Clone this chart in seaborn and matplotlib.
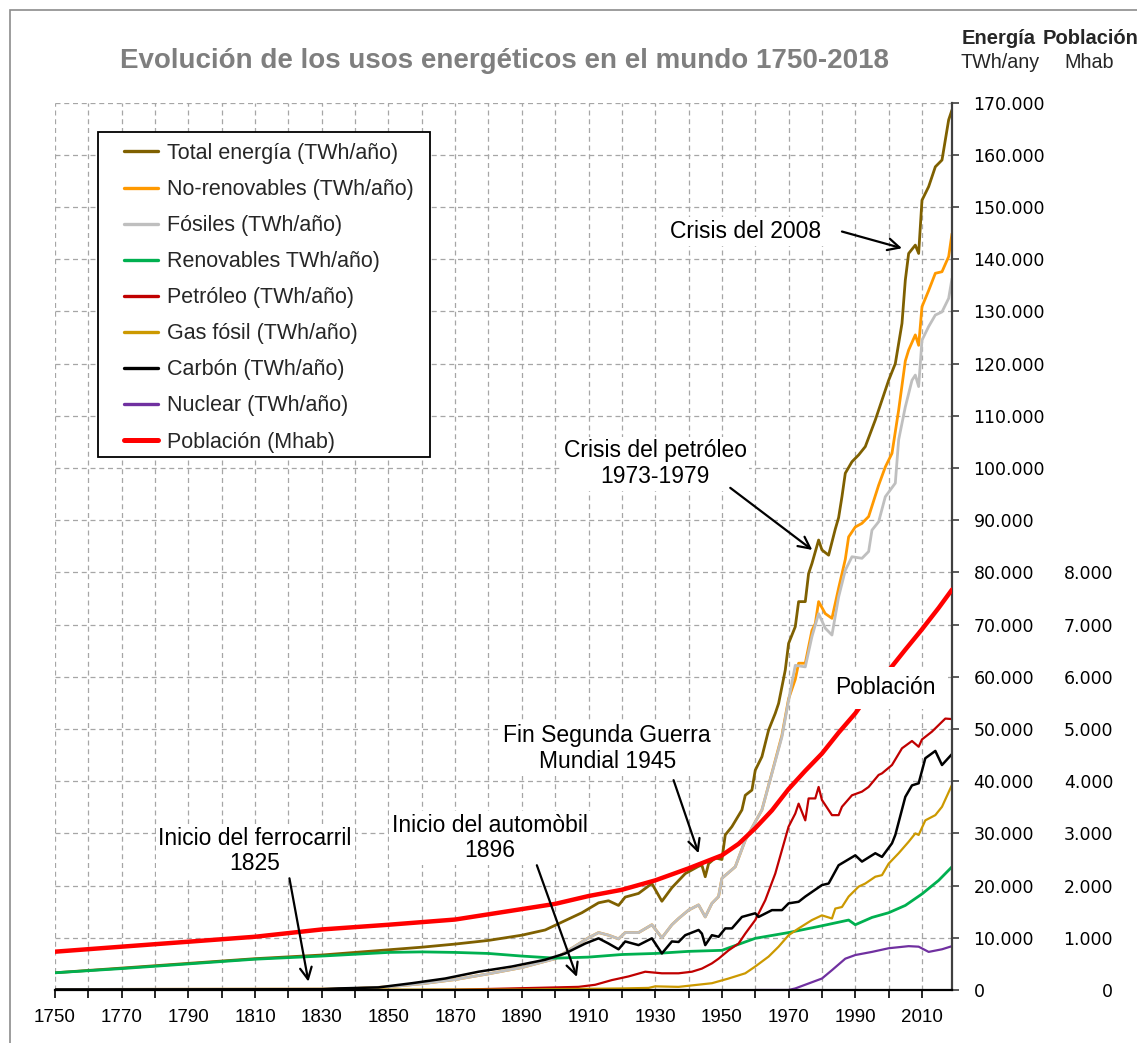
import matplotlib
matplotlib.use("Agg")
import matplotlib.pyplot as plt
import seaborn as sns
import pandas as pd
from matplotlib.lines import Line2D
from matplotlib.patches import Rectangle

# ---------------- data (TWh/año; población en Mhab) ----------------
total_years = [1750, 1770, 1790, 1810, 1830, 1850, 1860, 1870, 1880, 1890, 1897, 1903, 1908, 1913, 1916,
               1919, 1921, 1925, 1929, 1932, 1935, 1939, 1943, 1944, 1945, 1946, 1948, 1950, 1951, 1953,
               1956, 1957, 1959, 1960, 1962, 1964, 1966, 1967, 1969, 1970, 1972, 1973, 1975, 1976, 1977,
               1979, 1980, 1982, 1984, 1985, 1986, 1987, 1989, 1991, 1993, 1996, 1997, 2000, 2002, 2004,
               2005, 2006, 2008, 2009, 2010, 2012, 2014, 2016, 2018, 2019]
total_vals = [3300, 4200, 5100, 6000, 6700, 7700, 8200, 8800, 9500, 10500, 11500, 13300, 14800, 16700, 17100,
              16200, 17800, 18500, 20400, 17000, 19600, 22300, 23700, 23900, 21700, 24200, 25300, 25000, 29700, 31300,
              34500, 37300, 38300, 42100, 44700, 49800, 53000, 54900, 61300, 66400, 69600, 74400, 74400, 79800, 81700,
              86200, 84300, 83300, 88300, 90500, 94500, 99000, 101200, 102500, 104100, 109200, 111100, 116800, 120000, 127700,
              136000, 141100, 142700, 141100, 151300, 153900, 157700, 159000, 166700, 168600]

norenov_years = [1750, 1830, 1840, 1850, 1860, 1870, 1880, 1890, 1900, 1905, 1910, 1913, 1916, 1919, 1921, 1925,
                 1929, 1932, 1935, 1937, 1940, 1943, 1945, 1947, 1949, 1950, 1954, 1957, 1960, 1962, 1965, 1968,
                 1970, 1972, 1973, 1975, 1977, 1978, 1979, 1981, 1983, 1985, 1987, 1988, 1990, 1992, 1994, 1997,
                 1999, 2001, 2003, 2005, 2006, 2008, 2009, 2010, 2012, 2014, 2016, 2018, 2019]
norenov_vals = [100, 200, 300, 600, 1200, 2000, 3100, 4300, 6000, 8000, 10000, 11000, 10500, 9800, 11000, 11000,
                12500, 10000, 12500, 13700, 15300, 16300, 14000, 16600, 17900, 21400, 23600, 28700, 32200, 34500, 41600, 48800,
                55800, 59500, 62600, 62600, 68900, 70200, 74400, 72100, 71200, 77000, 82500, 86800, 88700, 89400, 90700, 96700,
                100200, 102800, 111100, 120500, 122600, 125500, 123500, 130900, 134000, 137300, 137600, 140500, 144900]

fosil_years = [1750, 1830, 1840, 1850, 1860, 1870, 1880, 1890, 1900, 1905, 1910, 1913, 1916, 1919, 1921, 1925,
               1929, 1932, 1935, 1937, 1940, 1943, 1945, 1947, 1949, 1950, 1954, 1957, 1960, 1962, 1965, 1968,
               1970, 1972, 1975, 1977, 1979, 1981, 1983, 1985, 1987, 1989, 1992, 1994, 1995, 1997, 1999, 2002,
               2003, 2005, 2007, 2008, 2009, 2010, 2012, 2014, 2016, 2018, 2019]
fosil_vals = [100, 200, 300, 600, 1200, 2000, 3100, 4300, 6000, 8000, 10000, 11000, 10500, 9800, 11000, 11000,
              12500, 10000, 12500, 13700, 15300, 16300, 14000, 16600, 17900, 21400, 23600, 28700, 32200, 34500, 41500, 48500,
              55500, 62200, 61900, 67700, 72100, 69300, 68000, 75300, 80400, 83000, 82700, 84000, 88100, 89700, 94500, 97100,
              105400, 111700, 116800, 117800, 115600, 124500, 127100, 129300, 129900, 132500, 136300]

renov_years = [1750, 1770, 1790, 1810, 1830, 1850, 1860, 1870, 1880, 1890, 1900, 1910, 1920, 1930, 1940, 1950,
               1960, 1970, 1980, 1988, 1990, 1995, 2000, 2005, 2010, 2015, 2019]
renov_vals = [3300, 4100, 5000, 5900, 6500, 7200, 7300, 7200, 7000, 6500, 6100, 6300, 6800, 7000, 7400, 7600,
              9900, 11000, 12300, 13400, 12500, 13900, 14800, 16200, 18400, 21000, 23600]

petro_years = [1860, 1870, 1887, 1907, 1912, 1917, 1922, 1927, 1932, 1937, 1941, 1944, 1947, 1949, 1952, 1955,
               1957, 1960, 1963, 1966, 1968, 1970, 1972, 1973, 1975, 1976, 1978, 1979, 1980, 1983, 1985, 1986,
               1989, 1992, 1994, 1997, 1998, 2001, 2004, 2007, 2009, 2010, 2013, 2017, 2019]
petro_vals = [0, 50, 300, 600, 1000, 1900, 2600, 3500, 3200, 3200, 3500, 4100, 5100, 6000, 7600, 8900,
              10800, 13400, 17200, 22300, 26800, 31300, 33800, 35700, 32500, 36700, 36700, 38900, 36400, 33500, 33500, 35100,
              37300, 38000, 38900, 41200, 41500, 43100, 46300, 47700, 46600, 48000, 49500, 52000, 51900]

gas_years = [1750, 1890, 1920, 1928, 1930, 1937, 1947, 1952, 1957, 1960, 1964, 1967, 1970, 1973, 1977, 1980,
             1983, 1984, 1986, 1988, 1991, 1993, 1996, 1998, 2000, 2003, 2006, 2008, 2009, 2011, 2014, 2016, 2019]
gas_vals = [0, 100, 300, 400, 700, 600, 1300, 2200, 3200, 4500, 6400, 8300, 10500, 11800, 13400, 14300,
            13700, 15600, 15900, 17900, 19800, 20400, 21700, 22000, 24200, 26200, 28400, 30000, 29700, 32500, 33500, 35100, 39300]

carbon_years = [1750, 1830, 1835, 1847, 1857, 1867, 1877, 1887, 1897, 1903, 1909, 1913, 1916, 1919, 1921, 1925,
                1929, 1932, 1935, 1937, 1939, 1943, 1944, 1945, 1947, 1949, 1951, 1953, 1956, 1960, 1961, 1965,
                1968, 1970, 1973, 1975, 1980, 1982, 1985, 1990, 1992, 1996, 1998, 2001, 2002, 2005, 2007, 2009,
                2011, 2014, 2016, 2019]
carbon_vals = [100, 150, 300, 500, 1300, 2200, 3500, 4500, 5800, 7000, 8900, 9900, 8900, 7800, 9300, 8600,
               9900, 7000, 9300, 9200, 10500, 11500, 10800, 8600, 10500, 10200, 11800, 11800, 14000, 14700, 14000, 15300,
               15300, 16600, 16900, 17900, 20100, 20400, 23900, 25800, 24600, 26200, 25500, 28100, 29700, 37000, 39200, 39600,
               44400, 45800, 43100, 45200]

nuclear_years = [1960, 1970, 1972, 1980, 1983, 1987, 1990, 1995, 2000, 2006, 2009, 2012, 2016, 2019]
nuclear_vals = [0, 0, 300, 2200, 3800, 6000, 6700, 7300, 8000, 8400, 8300, 7300, 7800, 8400]

pob_years = [1750, 1770, 1790, 1810, 1830, 1850, 1870, 1890, 1900, 1910, 1920, 1930, 1940, 1950, 1955,
             1960, 1965, 1970, 1975, 1980, 1985, 1990, 1995, 2000, 2005, 2010, 2015, 2019]
pob_vals = [734, 830, 925, 1020, 1160, 1250, 1350, 1550, 1650, 1800, 1920, 2100, 2330, 2580, 2800,
            3100, 3440, 3850, 4200, 4530, 4930, 5300, 5750, 6120, 6520, 6910, 7320, 7670]

series_names = ["Total energía (TWh/año)", "No-renovables (TWh/año)", "Fósiles (TWh/año)",
                "Renovables TWh/año)", "Petróleo (TWh/año)", "Gas fósil (TWh/año)",
                "Carbón (TWh/año)", "Nuclear (TWh/año)"]
pob_name = "Población (Mhab)"

energy_ticks = list(range(0, 170001, 10000))
pob_ticks = list(range(0, 8001, 1000))
year_ticks = list(range(1750, 2011, 10))

# ---------------- style ----------------
sns.set_theme(style="white")
plt.rcParams["font.family"] = ["Liberation Sans", "DejaVu Sans"]

colors = ["#7F6000", "#FF9900", "#BFBFBF", "#00B050", "#C00000", "#CC9900", "#000000", "#7030A0"]
widths = [2.0, 2.0, 2.0, 2.0, 1.6, 1.6, 1.8, 1.6]
pob_color = "#FF0000"

W, H = 1137, 1043
fig = plt.figure(figsize=(W / 100, H / 100), dpi=100)
x0, x1, y0, y1 = 55, 952, 102.6, 990
ax = fig.add_axes([x0 / W, 1 - y1 / H, (x1 - x0) / W, (y1 - y0) / H])
ax2 = ax.twinx()

energy = [(total_years, total_vals), (norenov_years, norenov_vals), (fosil_years, fosil_vals),
          (renov_years, renov_vals), (petro_years, petro_vals), (gas_years, gas_vals),
          (carbon_years, carbon_vals), (nuclear_years, nuclear_vals)]

handles = []
for (yrs, vals), name, c, lw in zip(energy, series_names, colors, widths):
    df = pd.DataFrame({"year": yrs, "value": vals})
    sns.lineplot(data=df, x="year", y="value", ax=ax, color=c, linewidth=lw,
                 estimator=None, legend=False)
    handles.append(Line2D([], [], color=c, linewidth=2.4, label=name))

dfp = pd.DataFrame({"year": pob_years, "value": pob_vals})
sns.lineplot(data=dfp, x="year", y="value", ax=ax2, color=pob_color, linewidth=3.2,
             estimator=None, legend=False)
handles.append(Line2D([], [], color=pob_color, linewidth=3.6, label=pob_name))

ax.set_xlim(1750, 2019)
ax.set_ylim(0, 170000)
ax2.set_ylim(0, 17000)
ax.set_xlabel("")
ax.set_ylabel("")
ax2.set_ylabel("")

# grid and ticks
ax.set_xticks(year_ticks)
ax.set_xticklabels([str(y) if (y - 1750) % 20 == 0 else "" for y in year_ticks])
ax.set_yticks(energy_ticks)
ax.set_yticklabels([f"{v:,}".replace(",", ".") for v in energy_ticks])
ax.grid(True, color="#a6a6a6", linestyle=(0, (4, 3)), linewidth=0.9)
ax.set_axisbelow(True)

ax.yaxis.tick_right()
ax.tick_params(axis="y", which="major", right=True, left=False, labelright=True, labelleft=False,
               length=5, width=1.2, color="#404040", pad=10.5, labelsize=12.5, labelcolor="black")
ax.tick_params(axis="x", which="major", bottom=True, length=5.5, width=1.2, color="black",
               pad=8, labelsize=13.5, labelcolor="black")
for t in ax.get_yticklabels():
    t.set_fontfamily(["DejaVu Sans"])

ax2.set_yticks(pob_ticks)
ax2.set_yticklabels([f"{v:,}".replace(",", ".") for v in pob_ticks])
ax2.tick_params(axis="y", length=0, pad=116, labelsize=12.5, labelcolor="black")
for t in ax2.get_yticklabels():
    t.set_ha("right")
    t.set_fontfamily(["DejaVu Sans"])

for s in ["left", "top"]:
    ax.spines[s].set_visible(False)
ax.spines["right"].set_color("#404040")
ax.spines["right"].set_linewidth(1.6)
ax.spines["bottom"].set_color("black")
ax.spines["bottom"].set_linewidth(1.6)
for s in ax2.spines.values():
    s.set_visible(False)

# legend: separate frame + frameless legend
ax2.add_patch(Rectangle(((98 - x0) / (x1 - x0), (y1 - 457) / (y1 - y0)),
                        (430 - 98) / (x1 - x0), (457 - 132) / (y1 - y0),
                        transform=ax2.transAxes, facecolor="white", edgecolor="black",
                        linewidth=1.3, zorder=5))
leg = ax2.legend(handles=handles, loc="upper left",
                 bbox_to_anchor=((124 - x0) / (x1 - x0), (y1 - 143) / (y1 - y0)),
                 borderaxespad=0, frameon=False, fontsize=15.5, handlelength=1.58,
                 handletextpad=0.42, labelspacing=0.7, borderpad=0)
leg.set_zorder(6)

# annotations (energy data coordinates)
tr = ax.transData
box = dict(facecolor="white", edgecolor="none", pad=2)
fs = 16.5
texts = [
    ("Crisis del 2008", 1957, 145300),
    ("Crisis del petróleo\n1973-1979", 1930, 100800),
    ("Fin Segunda Guerra\nMundial 1945", 1915.6, 46200),
    ("Inicio del automòbil\n1896", 1880.5, 29100),
    ("Inicio del ferrocarril\n1825", 1810, 26600),
]
for s, xx, yy in texts:
    ax2.text(xx, yy, s, transform=tr, ha="center", va="center", fontsize=fs,
             color="black", bbox=box, zorder=6, linespacing=1.15)
ax2.text(1999, 57900, "Población", transform=tr, ha="center", va="center", fontsize=fs,
         color="black", bbox=dict(facecolor="white", edgecolor="none", pad=7), zorder=6)

arrows = [
    ((1986.0, 145300), (2004.0, 142100)),
    ((1952.5, 96200), (1977.1, 84300)),
    ((1935.5, 40200), (1943.0, 26200)),
    ((1894.5, 23900), (1906.5, 2500)),
    ((1820.3, 21400), (1826.0, 1600)),
]
for start, end in arrows:
    ax2.annotate("", xy=end, xytext=start, xycoords=tr, textcoords=tr,
                 arrowprops=dict(arrowstyle="->,head_length=0.7,head_width=0.35",
                                 color="black", lw=1.6, shrinkA=0, shrinkB=0), zorder=7)

# titles and headers
fig.text(505 / W, 1 - 61 / H, "Evolución de los usos energéticos en el mundo 1750-2018",
         ha="center", va="center", fontsize=20, fontweight="bold", color="#7F7F7F")
fig.text(999 / W, 1 - 38 / H, "Energía", ha="center", va="center", fontsize=14.5, fontweight="bold")
fig.text(1091 / W, 1 - 38 / H, "Población", ha="center", va="center", fontsize=14.5, fontweight="bold")
fig.text(1000 / W, 1 - 63 / H, "TWh/any", ha="center", va="center", fontsize=14.2)
fig.text(1089 / W, 1 - 63 / H, "Mhab", ha="center", va="center", fontsize=14.2)

# chart-area border
fig.patches.append(Rectangle((9.5 / W, -0.1), 1.2, 1 - 9.5 / H + 0.1, transform=fig.transFigure,
                             fill=False, edgecolor="#8c8c8c", linewidth=1.2))

fig.savefig("out.png", dpi=100)
